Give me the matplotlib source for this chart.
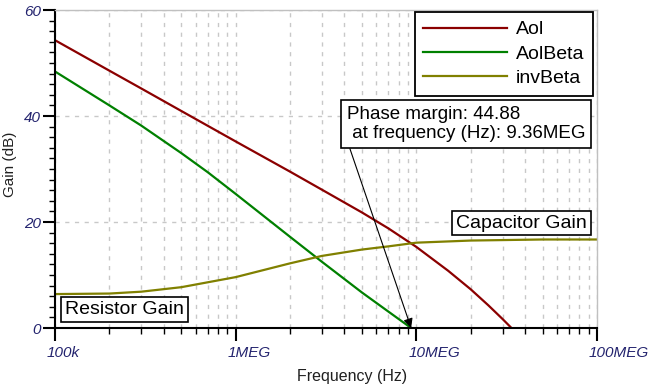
import matplotlib
matplotlib.use('Agg')
import matplotlib.pyplot as plt
import matplotlib.transforms as mtransforms
import numpy as np
from matplotlib.ticker import LogLocator, MultipleLocator, NullFormatter

plt.rcParams['font.family'] = ['Liberation Sans', 'DejaVu Sans']

# gain curves (Hz, dB)
freq_aol = [1e5, 2e5, 3e5, 5e5, 1e6, 2e6, 3e6, 5e6, 7e6, 1e7, 1.5e7, 2e7, 2.5e7, 3e7, 3.5e7]
aol = [54.3, 48.55, 45.2, 40.95, 35.2, 29.5, 26.1, 21.8, 18.8, 15.3, 10.8, 7.3, 4.3, 1.7, -0.6]

freq_beta = [1e5, 2e5, 3e5, 5e5, 7e5, 1e6, 2e6, 3e6, 5e6, 7e6, 9.36e6, 1e7]
aol_beta = [48.4, 42.0, 38.2, 33.0, 29.4, 25.3, 17.2, 12.5, 6.7, 3.1, 0.0, -0.7]

freq_inv = [1e5, 2e5, 3e5, 5e5, 1e6, 2e6, 3e6, 5e6, 7e6, 1e7, 2e7, 5e7, 1e8]
inv_beta = [6.4, 6.5, 6.85, 7.7, 9.6, 12.2, 13.6, 14.8, 15.4, 16.1, 16.5, 16.7, 16.7]

xtick_pos = [1e5, 1e6, 1e7, 1e8]
xtick_lab = ['100k', '1MEG', '10MEG', '100MEG']
ytick_pos = [0, 20, 40, 60]

pm_freq = 9.36e6
tick_col = '#23236e'
grid_col = '#c8c8c8'

fig = plt.figure(figsize=(6.5, 3.86), dpi=100)
ax = fig.add_axes([55/650, 58/386, 542/650, 318/386])

ax.plot(freq_aol, aol, color='#8b0000', lw=1.6, label='Aol')
ax.plot(freq_beta, aol_beta, color='#008000', lw=1.6, label='AolBeta')
ax.plot(freq_inv, inv_beta, color='#808000', lw=1.6, label='invBeta')

ax.set_xscale('log')
ax.set_xlim(1e5, 1e8)
ax.set_ylim(0, 60)
ax.set_xticks(xtick_pos)
ax.set_xticklabels(xtick_lab)
ax.xaxis.set_minor_locator(LogLocator(base=10, subs=np.arange(2, 10)))
ax.xaxis.set_minor_formatter(NullFormatter())
ax.set_yticks(ytick_pos)
ax.yaxis.set_minor_locator(MultipleLocator(2))

ax.tick_params(which='major', length=9, width=1.5, color='black', labelsize=11,
               labelcolor=tick_col, pad=4)
ax.tick_params(which='minor', length=4, width=1, color='black')
ax.tick_params(axis='y', which='major', pad=1)
for lab in ax.get_xticklabels() + ax.get_yticklabels():
    lab.set_fontstyle('italic')
# TINA puts the x labels just right of the tick, not centred on it
shift = mtransforms.ScaledTranslation(-8/100, 0, fig.dpi_scale_trans)
for lab in ax.get_xticklabels():
    lab.set_ha('left')
    lab.set_transform(lab.get_transform() + shift)

ax.grid(which='both', axis='x', ls=(0, (3, 4)), color=grid_col, lw=1)
ax.grid(which='major', axis='y', ls=(0, (3, 4)), color=grid_col, lw=1)

for s in ['left', 'bottom']:
    ax.spines[s].set_color('black')
    ax.spines[s].set_linewidth(1.5)
for s in ['top', 'right']:
    ax.spines[s].set_color('#c0c0c0')
    ax.spines[s].set_linewidth(1)

ax.set_xlabel('Frequency (Hz)', fontsize=11.5, color='#202020')
ax.xaxis.set_label_coords(0.548, -0.13)
ax.set_ylabel('Gain (dB)', fontsize=11, color='#202020')
ax.yaxis.set_label_coords(-0.07, 0.516)

leg = ax.legend(loc='upper right', bbox_to_anchor=(0.9926, 0.9937), borderaxespad=0,
                fontsize=14, handlelength=4.3, handletextpad=0.45, labelspacing=0.35,
                fancybox=False, framealpha=1, edgecolor='black', borderpad=0.45)
leg.get_frame().set_linewidth(1.3)

box = dict(boxstyle='square,pad=0.2', fc='white', ec='black', lw=1.2)
ax.text(0.128, 0.057, 'Resistor Gain', transform=ax.transAxes, fontsize=14,
        ha='center', va='center', bbox=box)
ax.text(0.861, 0.330, 'Capacitor Gain', transform=ax.transAxes, fontsize=14,
        ha='center', va='center', bbox=box)

ax.annotate('Phase margin: 44.88\n at frequency (Hz): 9.36MEG',
            xy=(pm_freq, 0), xycoords='data',
            xytext=(0.538, 0.641), textcoords='axes fraction',
            fontsize=13.5, ha='left', va='center',
            bbox=dict(boxstyle='square,pad=0.3', fc='white', ec='black', lw=1.2),
            arrowprops=dict(arrowstyle='-|>', color='black', lw=0.8,
                            mutation_scale=14, shrinkA=0, shrinkB=0,
                            relpos=(0.005, 0)))

fig.savefig('out.png', dpi=100)
